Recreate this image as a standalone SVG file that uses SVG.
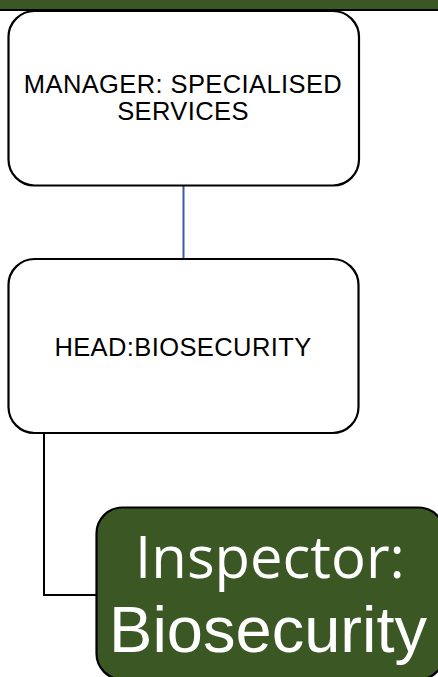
<svg xmlns="http://www.w3.org/2000/svg" width="438" height="677" viewBox="0 0 438 677">
<style>
.box{fill:#ffffff;stroke:#000000;stroke-width:2.2}
.gbox{fill:#3a5724;stroke:#000000;stroke-width:2.2}
.lbl{font-family:"Liberation Sans",Arial,sans-serif;font-size:25.5px;letter-spacing:0.4px;fill:#000000;text-anchor:middle}
.big1{font-family:"Open Sans","Noto Sans",sans-serif;font-size:58px;fill:#ffffff;text-anchor:middle}
.big2{font-family:"Liberation Sans",Arial,sans-serif;font-size:65px;fill:#ffffff;text-anchor:middle}
</style>
<rect x="0" y="0" width="438" height="9" fill="#3a5724"/>
<rect x="0" y="9" width="438" height="2" fill="#000000"/>
<g id="connectors">
<line x1="183.5" y1="185" x2="183.5" y2="259" stroke="#3a5ba8" stroke-width="2"/>
<polyline points="44,433 44,595 97,595" fill="none" stroke="#000000" stroke-width="2"/>
</g>
<g id="manager">
<rect class="box" x="8.5" y="11" width="350.5" height="174.5" rx="26" ry="26"/>
<text class="lbl" x="183" y="93">MANAGER: SPECIALISED</text>
<text class="lbl" x="183" y="119.5">SERVICES</text>
</g>
<g id="head">
<rect class="box" x="8.5" y="259" width="350" height="174" rx="26" ry="26"/>
<text class="lbl" x="183" y="356">HEAD:BIOSECURITY</text>
</g>
<g id="inspector">
<rect class="gbox" x="96.5" y="507.5" width="348" height="172" rx="26" ry="26"/>
<text class="big1" x="270" y="578">Inspector:</text>
<text class="big2" x="268" y="652">Biosecurity</text>
</g>
</svg>
